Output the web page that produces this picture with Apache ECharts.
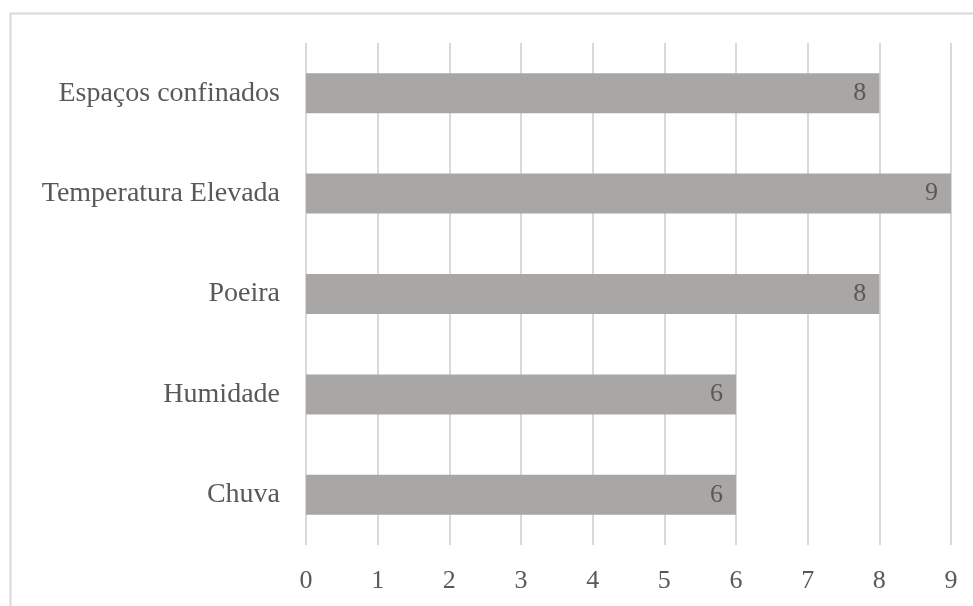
<!DOCTYPE html>
<html><head><meta charset="utf-8">
<script src="https://cdn.jsdelivr.net/npm/echarts@6/dist/echarts.min.js"></script>
<style>html,body{margin:0;padding:0;background:#fff}#c{width:973px;height:606px}</style>
</head><body><div id="c"></div>
<script>
const categories = ["Chuva", "Humidade", "Poeira", "Temperatura Elevada", "Espaços confinados"];
const values = [6, 6, 8, 9, 8];
const xTicks = [0, 1, 2, 3, 4, 5, 6, 7, 8, 9];

const font = '"Liberation Serif", "Times New Roman", serif';
const chart = echarts.init(document.getElementById('c'));
chart.setOption({
  backgroundColor: '#fff',
  animation: false,
  graphic: [{
    type: 'rect', shape: {x: 10.5, y: 13.5, width: 980, height: 620},
    style: {fill: 'none', stroke: '#d9d9d9', lineWidth: 2}, silent: true
  }],
  grid: {left: 306, right: 22, top: 43, bottom: 61, containLabel: false},
  xAxis: {
    type: 'value', min: xTicks[0], max: xTicks[xTicks.length - 1], interval: 1,
    axisLine: {show: false}, axisTick: {show: false},
    splitLine: {show: true, lineStyle: {color: '#d9d9d9', width: 2}},
    axisLabel: {color: '#595959', fontFamily: font, fontSize: 26, margin: 23}
  },
  yAxis: {
    type: 'category', data: categories,
    axisLine: {show: false}, axisTick: {show: false},
    axisLabel: {color: '#595959', fontFamily: font, fontSize: 28, margin: 26}
  },
  series: [{
    type: 'bar', data: values, barWidth: 40,
    itemStyle: {color: '#a9a7a6'},
    label: {show: true, position: 'insideRight', distance: 13, color: '#595959', fontFamily: font, fontSize: 26}
  }]
});
</script></body></html>
